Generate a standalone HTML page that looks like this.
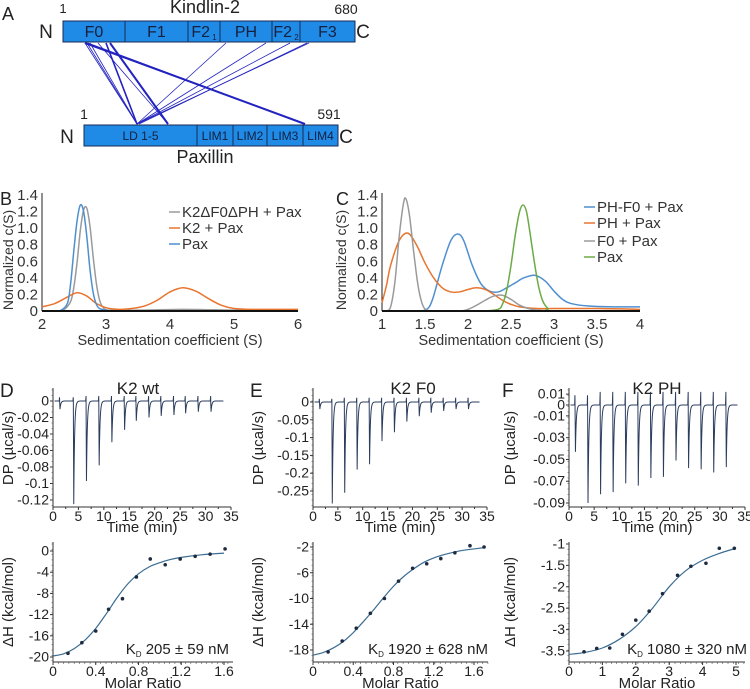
<!DOCTYPE html>
<html><head><meta charset="utf-8"><style>
html,body{margin:0;padding:0;background:#fff;}
svg{display:block;font-family:"Liberation Sans",Arial,sans-serif;}
</style></head><body>
<svg id="fig" width="750" height="689" viewBox="0 0 750 689" xmlns="http://www.w3.org/2000/svg"></svg>
<script>
// ---------- Panel B data ----------
const bPaxX=[2,2.2,2.3,2.4,2.45,2.5,2.55,2.6,2.65,2.7,2.75,2.8,2.85,2.9,3.0,3.1,6];
const bPaxY=[0,0,0.01,0.1,0.35,0.75,1.1,1.28,1.2,0.9,0.5,0.22,0.08,0.03,0.01,0,0];
const bDelX=[2.25,2.35,2.45,2.5,2.55,2.6,2.65,2.7,2.75,2.8,2.85,2.9,2.95,3.05,3.5,4.2,5,6];
const bDelY=[0,0.02,0.12,0.3,0.6,0.98,1.22,1.24,1.02,0.65,0.33,0.13,0.05,0.01,0.01,0.02,0.01,0];
const bK2X=[2,2.2,2.4,2.55,2.7,2.85,3.0,3.2,3.4,3.6,3.8,4.0,4.2,4.4,4.6,4.8,5.0,5.3,6];
const bK2Y=[0.05,0.09,0.17,0.22,0.18,0.09,0.04,0.02,0.03,0.06,0.13,0.23,0.28,0.24,0.15,0.07,0.03,0.02,0.02];
const bTicksX=[2,3,4,5,6];
const cTicksY=[0,0.2,0.4,0.6,0.8,1.0,1.2,1.4];
// ---------- Panel C data ----------
const cF0X=[1.05,1.1,1.15,1.2,1.25,1.28,1.32,1.37,1.42,1.47,1.52,1.6,1.9,2.0,2.1,2.2,2.3,2.4,2.5,2.6,2.7,2.8,3.0];
const cF0Y=[0,0.05,0.35,0.9,1.3,1.35,1.15,0.7,0.3,0.08,0.01,0,0,0.02,0.07,0.13,0.18,0.19,0.14,0.07,0.03,0.01,0];
const cPHX=[1,1.05,1.1,1.2,1.3,1.4,1.5,1.6,1.7,1.8,1.9,2.0,2.1,2.2,2.3,2.4,2.5,2.6,2.8,3.0,3.5,4];
const cPHY=[0.1,0.3,0.55,0.85,0.94,0.8,0.58,0.4,0.28,0.23,0.23,0.26,0.28,0.26,0.2,0.13,0.08,0.05,0.03,0.03,0.03,0.02];
const cPHF0X=[1.45,1.5,1.55,1.6,1.7,1.8,1.88,1.95,2.05,2.15,2.25,2.35,2.45,2.55,2.65,2.78,2.9,3.0,3.1,3.2,3.4,3.7,4];
const cPHF0Y=[0,0.01,0.05,0.18,0.55,0.85,0.93,0.85,0.55,0.33,0.24,0.23,0.28,0.34,0.4,0.43,0.36,0.24,0.14,0.09,0.06,0.05,0.05];
const cPaxX=[2.2,2.35,2.4,2.45,2.5,2.55,2.6,2.64,2.68,2.72,2.77,2.82,2.87,2.93,3.0,4];
const cPaxY=[0,0.02,0.08,0.25,0.55,0.92,1.2,1.28,1.2,0.95,0.6,0.3,0.12,0.03,0,0];
const cTicksX=[1,1.5,2,2.5,3,3.5,4];
// ---------- ITC raw data (injection times, peak depths) ----------
const dInjT=[1.3,4.0,6.5,9.0,11.5,14.0,16.3,18.8,21.2,23.7,26.0,28.5,31.0];
const dInjD=[-0.01,-0.125,-0.097,-0.078,-0.05,-0.035,-0.024,-0.02,-0.018,-0.017,-0.015,-0.013,-0.013];
const eInjT=[1.3,3.8,6.3,8.8,11.3,13.8,16.3,18.8,21.3,23.7,26.2,28.7,31.2];
const eInjD=[-0.02,-0.285,-0.255,-0.19,-0.175,-0.11,-0.085,-0.055,-0.04,-0.03,-0.025,-0.02,-0.02];
const fInjT=[1.2,3.7,6.2,8.7,11.2,13.7,16.2,18.7,21.2,23.7,26.2,28.7,31.2];
const fInjD=[-0.043,-0.09,-0.082,-0.08,-0.072,-0.074,-0.067,-0.066,-0.051,-0.058,-0.059,-0.062,-0.057];
// ---------- ITC isotherm data ----------
const dPtX=[0.14,0.27,0.40,0.52,0.65,0.78,0.91,1.05,1.19,1.33,1.47,1.61];
const dPtY=[-19.3,-17.3,-15.1,-11.0,-9.0,-4.9,-1.5,-2.6,-1.5,-1.0,-0.6,0.4];
const dFitX=[0,0.1,0.2,0.3,0.4,0.5,0.6,0.7,0.8,0.9,1.0,1.1,1.2,1.4,1.6];
const dFitY=[-19.8,-19.4,-18.4,-16.8,-14.6,-11.8,-8.8,-6.2,-4.3,-3.0,-2.2,-1.6,-1.2,-0.7,-0.4];
const ePtX=[0.15,0.29,0.43,0.57,0.71,0.85,0.99,1.13,1.27,1.41,1.56,1.70];
const ePtY=[-18.3,-16.6,-14.6,-12.3,-10.0,-7.3,-5.3,-4.6,-3.8,-2.9,-1.8,-2.0];
const eFitX=[0,0.1,0.2,0.3,0.4,0.5,0.6,0.7,0.8,0.9,1.0,1.1,1.2,1.3,1.4,1.5,1.6,1.7];
const eFitY=[-18.8,-18.4,-17.7,-16.7,-15.3,-13.6,-11.8,-9.9,-8.1,-6.6,-5.4,-4.4,-3.7,-3.2,-2.8,-2.5,-2.3,-2.1];
const fPtX=[0.45,0.83,1.22,1.6,2.0,2.4,2.8,3.25,3.65,4.1,4.5,4.95];
const fPtY=[-3.52,-3.44,-3.43,-3.11,-2.78,-2.57,-2.16,-1.73,-1.52,-1.45,-1.1,-1.1];
const fFitX=[0,0.5,1,1.5,2,2.5,3,3.5,4,4.5,5];
const fFitY=[-3.58,-3.53,-3.43,-3.23,-2.93,-2.5,-2.0,-1.62,-1.38,-1.22,-1.1];

const NS="http://www.w3.org/2000/svg";
const svg=document.getElementById('fig');
function el(tag,attrs,parent,text){const e=document.createElementNS(NS,tag);for(const k in attrs)e.setAttribute(k,attrs[k]);if(text!==undefined)e.textContent=text;(parent||svg).appendChild(e);return e;}
function lin(d0,d1,r0,r1){return v=>r0+(v-d0)*(r1-r0)/(d1-d0);}
function smooth(pts){let d='M'+pts[0][0].toFixed(2)+','+pts[0][1].toFixed(2);
 for(let i=0;i<pts.length-1;i++){const p0=pts[Math.max(0,i-1)],p1=pts[i],p2=pts[i+1],p3=pts[Math.min(pts.length-1,i+2)];
 const c1=[p1[0]+(p2[0]-p0[0])/6,p1[1]+(p2[1]-p0[1])/6],c2=[p2[0]-(p3[0]-p1[0])/6,p2[1]-(p3[1]-p1[1])/6];
 d+=' C'+c1.map(v=>v.toFixed(2))+' '+c2.map(v=>v.toFixed(2))+' '+p2.map(v=>v.toFixed(2));}return d;}

// ================= Panel A =================
const gA=el('g',{});


let t=el('text',{x:2,y:20,'font-size':18,fill:'#222'},gA,'A');

function bar(x0,x1,y0,y1,divs,labels,name){
 const g=el('g',{},gA);
 
 el('rect',{x:x0,y:y0,width:x1-x0,height:y1-y0,fill:'#1f8be6',stroke:'#1a2a55','stroke-width':1},g);
 const edges=[x0,...divs,x1];
 divs.forEach(d=>el('line',{x1:d,x2:d,y1:y0,y2:y1,stroke:'#1a2a55','stroke-width':1},g));
 labels.forEach((l,i)=>{const tx=el('text',{x:(edges[i]+edges[i+1])/2,y:(y0+y1)/2+l[1]/2.8,'text-anchor':'middle','font-size':l[1],fill:'#152040'},g);
  
  tx.textContent=l[0]; if(l[2]){el('tspan',{'font-size':8,dy:3},tx,' '+l[2]);}});
}
bar(63,355,21,42,[125,188,220,272,300],[['F0',16],['F1',16],['F2',16,'1'],['PH',16],['F2',16,'2'],['F3',16]],'kindlin-2-bar');
bar(84,338,125,146,[197,233,267,303],[['LD 1-5',12],['LIM1',12],['LIM2',12],['LIM3',12],['LIM4',12]],'paxillin-bar');
[['Kindlin-2',205,13,18],['1',63,13,13],['680',346,14,14],['N',46,38,19],['C',363,38,19],['1',84,119,14],['591',329,119,14],['N',67,143,19],['C',346,143,19],['Paxillin',205,163,18]].forEach(a=>{
 const tx=el('text',{x:a[1],y:a[2],'font-size':a[3],'text-anchor':'middle',fill:'#222'},gA,a[0]);
 });
const xl=[[85,137,0.8],[87,137,0.8],[90,137,0.8],[98,168,0.8],[85,305,2],[88,305,0.8],[110,168,2],[106,137,1.6],[226,137,0.8],[266,137,0.8],[290,137,0.8],[309,137,0.8],[307,139,0.8]];
xl.forEach(l=>{const ln=el('line',{x1:l[0],y1:43,x2:l[1],y2:124,stroke:'#2323c0','stroke-width':l[2]},gA);
 });

// ================= Panels B & C =================
function sedPanel(o){
 const g=el('g',{});
 
 const X=lin(o.xd[0],o.xd[1],o.xr[0],o.xr[1]), Y=lin(0,1.4,311,195);
 let tl=el('text',{x:o.lx,y:205,'font-size':18,fill:'#222'},g,o.letter);
 
 el('line',{x1:o.xr[0],x2:o.xr[0],y1:193,y2:311,stroke:'#222','stroke-width':1},g);
 cTicksY.forEach(v=>{const tx=el('text',{x:o.xr[0]-4,y:Y(v)+5,'font-size':15,'text-anchor':'end',fill:'#333'},g,v===0?'0':v.toFixed(1));
  });
 o.ticks.forEach(v=>{const tx=el('text',{x:X(v),y:329,'font-size':15,'text-anchor':'middle',fill:'#333'},g,String(v));
  });
 const yt=el('text',{x:0,y:0,'font-size':14,'text-anchor':'middle',fill:'#333',transform:`translate(${o.ylx},260) rotate(-90)`},g,'Normalized c(S)');
 
 const xt=el('text',{x:(o.xr[0]+o.xr[1])/2,y:345,'font-size':14.5,'text-anchor':'middle',fill:'#333'},g,'Sedimentation coefficient (S)');
 
 o.series.forEach((s,i)=>{
  const p=el('path',{d:smooth(s.x.map((xv,j)=>[X(xv),Y(s.y[j])])),fill:'none',stroke:s.c,'stroke-width':1.5},g);
  
  const ly=o.legY[i];
  const lg=el('g',{},g);
  
  el('line',{x1:o.legX,x2:o.legX+11,y1:ly,y2:ly,stroke:s.c,'stroke-width':1.5},lg);
  el('text',{x:o.legX+13,y:ly+5,'font-size':15,fill:'#333'},lg,s.n);
 });
 el('line',{x1:o.xr[0],x2:o.xr[1],y1:311,y2:311,stroke:'#111','stroke-width':2},g);
}
sedPanel({name:'panel-b-sedimentation',letter:'B',lx:0,ylx:13,xd:[2,6],xr:[42,298],ticks:bTicksX,legX:169,legY:[212,228,244],
 series:[{n:'K2\u0394F0\u0394PH + Pax',x:bDelX,y:bDelY,c:'#9a9a9a'},{n:'K2 + Pax',x:bK2X,y:bK2Y,c:'#e8742e'},{n:'Pax',x:bPaxX,y:bPaxY,c:'#4f8fd0'}]});
sedPanel({name:'panel-c-sedimentation',letter:'C',lx:336,ylx:346,xd:[1,4],xr:[382,640],ticks:cTicksX,legX:584,legY:[207,223,241,257],
 series:[{n:'PH-F0 + Pax',x:cPHF0X,y:cPHF0Y,c:'#4f8fd0'},{n:'PH + Pax',x:cPHX,y:cPHY,c:'#e8742e'},{n:'F0 + Pax',x:cF0X,y:cF0Y,c:'#9a9a9a'},{n:'Pax',x:cPaxX,y:cPaxY,c:'#6aab45'}]});

// ================= Panels D/E/F =================
function itc(o){
 const g=el('g',{});
 
 let tl=el('text',{x:o.lx,y:397,'font-size':19,fill:'#222'},g,o.letter);
 
 let tt=el('text',{x:o.tx,y:394,'font-size':17,'text-anchor':'middle',fill:'#222'},g,o.title);
 
 const X=lin(0,35,o.ax,o.rx), Y=lin(o.r0[0],o.r0[1],o.r0[2],o.r0[3]);
 el('line',{x1:o.ax,x2:o.ax,y1:388,y2:507,stroke:'#333'},g);
 el('line',{x1:o.ax,x2:o.rx,y1:507,y2:507,stroke:'#333'},g);
 for(let v=0;v<=35;v+=5){el('line',{x1:X(v),x2:X(v),y1:507,y2:510,stroke:'#333'},g);
  const tx=el('text',{x:X(v),y:521,'font-size':14,'text-anchor':'middle',fill:'#222'},g,String(v));
  
  if(v<35)el('line',{x1:X(v+2.5),x2:X(v+2.5),y1:507,y2:509,stroke:'#333'},g);}
 o.rt.forEach(v=>{el('line',{x1:o.ax-3,x2:o.ax,y1:Y(v),y2:Y(v),stroke:'#333'},g);
  const tx=el('text',{x:o.ax-4,y:Y(v)+4.5,'font-size':14,'text-anchor':'end',fill:'#222'},g,String(v));
  });
 for(let yy=390;yy<507;yy+=5.5)el('line',{x1:o.ax-1.5,x2:o.ax,y1:yy,y2:yy,stroke:'#555','stroke-width':0.6},g);
 let d='';
 for(let tm=0.3;tm<=33.5;tm+=0.02){let v=0;
  o.it.forEach((ti,k)=>{const dd=o.id[k];const dt=tm-ti;
   if(dt>-0.08&&dt<0)v+=o.up*(1+dt/0.08);
   else if(dt>=0&&dt<0.08)v+=dd*dt/0.08;
   else if(dt>=0.08)v+=dd*Math.exp(-(dt-0.08)/0.16);});
  d+=(d?'L':'M')+X(tm).toFixed(2)+','+Y(v).toFixed(2);}
 const tr=el('path',{d:d,fill:'none',stroke:'#2b3d5e','stroke-width':1},g);
 
 const yt=el('text',{x:0,y:0,'font-size':15,'text-anchor':'middle',fill:'#222',transform:`translate(${o.lx+13},448) rotate(-90)`},g,'DP (\u00b5cal/s)');
 
 const xt=el('text',{x:(o.ax+o.rx)/2,y:532,'font-size':15,'text-anchor':'middle',fill:'#222'},g,'Time (min)');
 
 const IX=lin(0,o.mx[0],o.ax,o.mx[1]), IY=lin(o.h[0],o.h[1],o.h[2],o.h[3]);
 el('line',{x1:o.ax,x2:o.ax,y1:542,y2:662,stroke:'#333'},g);
 el('line',{x1:o.ax,x2:o.mxEnd,y1:662,y2:662,stroke:'#333'},g);
 o.mt.forEach(v=>{el('line',{x1:IX(v),x2:IX(v),y1:662,y2:665,stroke:'#333'},g);
  const tx=el('text',{x:IX(v),y:676,'font-size':14,'text-anchor':'middle',fill:'#222'},g,String(v));
  });
 for(let xx=o.ax;xx<o.mxEnd;xx+=5.3)el('line',{x1:xx,x2:xx,y1:662,y2:664,stroke:'#555','stroke-width':0.6},g);
 o.ht.forEach(v=>{el('line',{x1:o.ax-3,x2:o.ax,y1:IY(v),y2:IY(v),stroke:'#333'},g);
  const tx=el('text',{x:o.ax-4,y:IY(v)+4.5,'font-size':14,'text-anchor':'end',fill:'#222'},g,String(v));
  });
 for(let yy=544;yy<662;yy+=5.3)el('line',{x1:o.ax-1.5,x2:o.ax,y1:yy,y2:yy,stroke:'#555','stroke-width':0.6},g);
 const fit=el('path',{d:smooth(o.fx.map((v,j)=>[IX(v),IY(o.fy[j])])),fill:'none',stroke:'#3a6c92','stroke-width':1.2},g);
 
 o.px.forEach((v,j)=>{const c=el('circle',{cx:IX(v),cy:IY(o.py[j]),r:1.8,fill:'#1d2a40'},g);
  });
 const yt2=el('text',{x:0,y:0,'font-size':15,'text-anchor':'middle',fill:'#222',transform:`translate(${o.lx+13},602) rotate(-90)`},g,'\u0394H (kcal/mol)');
 
 const xt2=el('text',{x:(o.ax+o.mxEnd)/2,y:688,'font-size':15,'text-anchor':'middle',fill:'#222'},g,'Molar Ratio');
 
 const kd=el('text',{x:o.kx,y:654,'font-size':15,'text-anchor':'end',fill:'#222'},g);
 
 kd.textContent='K';el('tspan',{'font-size':8,dy:3},kd,'D');el('tspan',{dy:-3},kd,' '+o.kd);
}
itc({name:'panel-d-k2-wt',letter:'D',lx:0,tx:138,title:'K2 wt',ax:53,rx:231,r0:[0,-0.12,401,500],rt:[0,-0.02,-0.04,-0.06,-0.08,-0.1,-0.12],it:dInjT,id:dInjD,up:0.006,
 mx:[1.6,224],mxEnd:233,mt:[0,0.4,0.8,1.2,1.6],h:[0,-20,551,657],ht:[0,-4,-8,-12,-16,-20],fx:dFitX,fy:dFitY,px:dPtX,py:dPtY,kx:229,kd:'205 \u00b1 59 nM'});
itc({name:'panel-e-k2-f0',letter:'E',lx:250,tx:413,title:'K2 F0',ax:313,rx:487,r0:[0,-0.25,402,491],rt:[0,-0.05,-0.1,-0.15,-0.2,-0.25],it:eInjT,id:eInjD,up:0.012,
 mx:[1.6,474],mxEnd:488,mt:[0,0.4,0.8,1.2,1.6],h:[-2,-18,547,650],ht:[-2,-6,-10,-14,-18],fx:eFitX,fy:eFitY,px:ePtX,py:ePtY,kx:488,kd:'1920 \u00b1 628 nM'});
itc({name:'panel-f-k2-ph',letter:'F',lx:502,tx:657,title:'K2 PH',ax:569,rx:745,r0:[0,-0.09,405,503],rt:[0.01,0,-0.01,-0.03,-0.05,-0.07,-0.09],it:fInjT,id:fInjD,up:0.012,
 mx:[5,736],mxEnd:745,mt:[0,1,2,3,4,5],h:[-1,-3.5,544,651],ht:[-1,-1.5,-2,-2.5,-3,-3.5],fx:fFitX,fy:fFitY,px:fPtX,py:fPtY,kx:747,kd:'1080 \u00b1 320 nM'});
</script>
</body></html>
